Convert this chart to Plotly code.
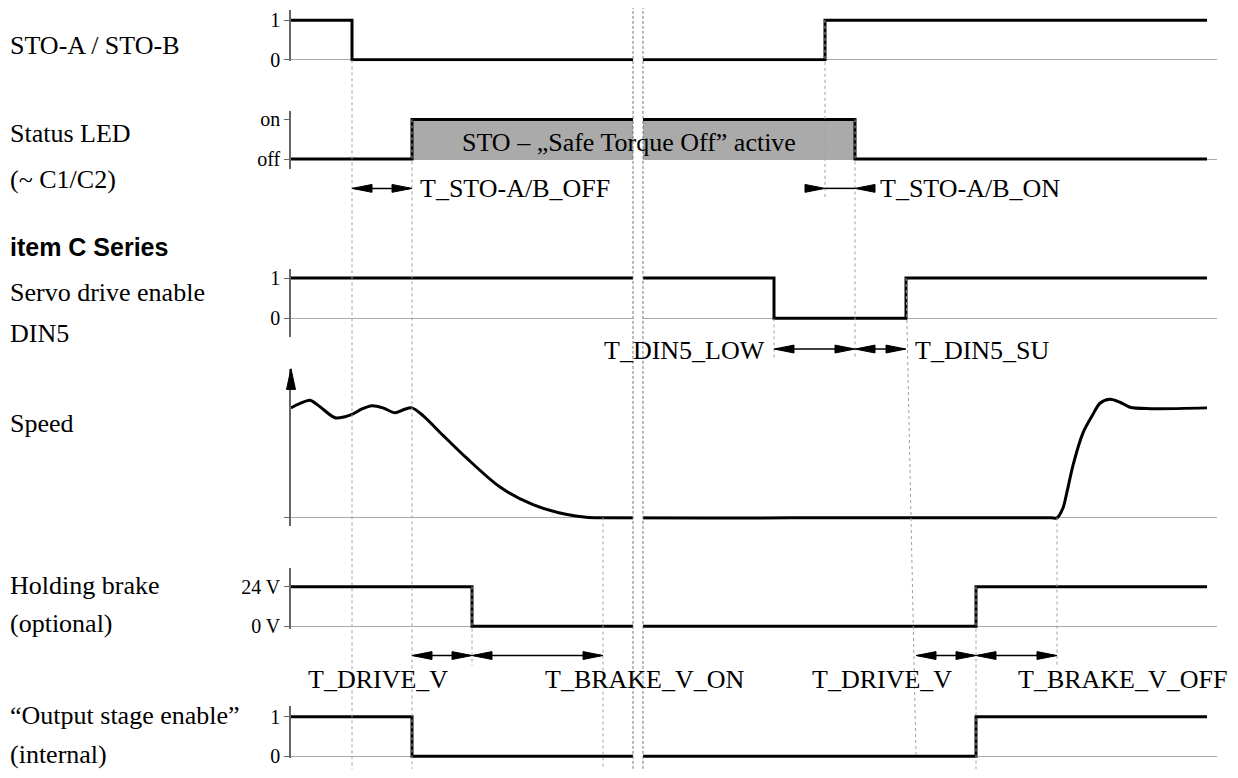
import plotly.graph_objects as go

# page has an 8px body margin: the figure is sized to fit inside the window
OFF = 8
W, H = 1238 - 2 * OFF, 778 - 2 * OFF
SERIF = "Liberation Serif, Times New Roman, serif"
SANS = "Liberation Sans, Arial, sans-serif"

# ---------------- data (time in arbitrary units) ----------------
t_end = 916
t_sto_off = 61          # STO-A/B switched off
t_led_on = 121          # status LED on / output stage disabled
t_brake_on = 181        # holding brake voltage off
t_brake_v_on_end = 312  # brake engaged
t_din5_low = 483        # DIN5 falls
t_sto_on = 534          # STO-A/B switched on again
t_led_off = 564         # status LED off
t_din5_high = 615       # DIN5 rises
t_drive_v2 = 625        # start of second T_DRIVE_V
t_brake_off = 685       # brake voltage on / output stage enabled
t_speed_rise = 766      # motor starts
t_break = [342, 352]    # axis break

sto_times = [0, t_sto_off, t_sto_on]
sto_levels = [1, 0, 1]
led_times = [0, t_led_on, t_led_off]
led_levels = [0, 1, 0]
din5_times = [0, t_din5_low, t_din5_high]
din5_levels = [1, 0, 1]
brake_times = [0, t_brake_on, t_brake_off]
brake_levels = [24, 0, 24]
output_times = [0, t_led_on, t_brake_off]
output_levels = [1, 0, 1]

speed_t = [0, 9, 19, 29, 44, 54, 61, 71, 81, 92, 104, 113, 121, 132, 152, 176, 209, 242,
           276, 295, 308, 500, 700, 760, 766, 772, 776, 782, 792, 801, 809, 819, 829, 839, 859, 916]
speed_v = [1.00, 1.04, 1.07, 1.01, 0.91, 0.92, 0.94, 0.99, 1.02, 1.00, 0.955, 0.985, 1.00,
           0.93, 0.75, 0.54, 0.28, 0.12, 0.03, 0.005, 0.0, 0.0, 0.0, 0.0, 0.0, 0.09, 0.236, 0.478,
           0.773, 0.926, 1.042, 1.078, 1.051, 1.006, 0.993, 1.00]

row_labels = [("STO-A / STO-B", 44), ("Status LED", 133), ("(~ C1/C2)", 180),
              ("Servo drive enable", 295), ("DIN5", 336), ("Speed", 428),
              ("Holding brake", 592), ("(optional)", 630),
              ("\u201cOutput stage enable\u201d", 724), ("(internal)", 763)]

# ---------------- helpers ----------------
def step(times, levels, end):
    xs, ys = [], []
    for i, (t, l) in enumerate(zip(times, levels)):
        tn = times[i + 1] if i + 1 < len(times) else end
        xs += [t, tn]
        ys += [l, l]
    return xs, ys

def px(p):
    return (p - OFF) / W

def py(p):
    return 1 - (p - OFF) / H

def axis(ptop, pbot, va, pa, vb, pb, tickvals, ticktext):
    s = (pb - pa) / (va - vb)
    vt = va + (pa - ptop) / s
    vbot = vb - (pbot - pb) / s
    return dict(domain=[py(pbot), py(ptop)], range=[vbot, vt], anchor="x",
                showline=True, linecolor="#666", linewidth=1.5,
                ticks="outside", ticklen=5, tickcolor="#666", tickwidth=1,
                tickvals=tickvals, ticktext=ticktext,
                tickfont=dict(family=SERIF, size=20, color="black"),
                showgrid=False, zeroline=True, zerolinecolor="#aaaaaa", zerolinewidth=1,
                fixedrange=True)

fig = go.Figure()
line = dict(color="black", width=3)

x, y = step(sto_times, sto_levels, t_end)
fig.add_trace(go.Scatter(x=x, y=y, mode="lines", line=line, yaxis="y"))
x, y = step(led_times, led_levels, t_end)
fig.add_trace(go.Scatter(x=x, y=y, mode="lines", line=line, fill="tozeroy",
                         fillcolor="#aaaaaa", yaxis="y2"))
x, y = step(din5_times, din5_levels, t_end)
fig.add_trace(go.Scatter(x=x, y=y, mode="lines", line=line, yaxis="y3"))
fig.add_trace(go.Scatter(x=speed_t, y=speed_v, mode="lines",
                         line=dict(color="black", width=3, shape="spline", smoothing=0.8),
                         yaxis="y4"))
x, y = step(brake_times, brake_levels, t_end)
fig.add_trace(go.Scatter(x=x, y=y, mode="lines", line=line, yaxis="y5"))
x, y = step(output_times, output_levels, t_end)
fig.add_trace(go.Scatter(x=x, y=y, mode="lines", line=line, yaxis="y6"))

shapes = []
# guide lines
guides = [(t_sto_off, 59, t_sto_off, 778), (t_led_on, 119, t_led_on, 778),
          (t_brake_on, 593, t_brake_on, 673), (t_brake_v_on_end, 523, t_brake_v_on_end, 778),
          (t_sto_on, 18, t_sto_on, 200), (t_led_off, 119, t_led_off, 360),
          (t_din5_low, 321, t_din5_low, 362), (t_din5_high, 280, t_drive_v2, 765),
          (t_brake_off, 593, t_brake_off, 778), (t_speed_rise, 523, t_speed_rise, 673)]
for x0, y0, x1, y1 in guides:
    shapes.append(dict(type="line", xref="x", yref="paper", x0=x0, x1=x1, y0=py(y0), y1=py(y1),
                       line=dict(color="#a0a0a0", width=1, dash="dot"), layer="above"))

# axis break
shapes.append(dict(type="rect", xref="x", yref="paper", x0=t_break[0], x1=t_break[1],
                   y0=py(778), y1=py(0),
                   fillcolor="white", line=dict(width=0), layer="above"))
for tb in t_break:
    shapes.append(dict(type="line", xref="x", yref="paper", x0=tb, x1=tb, y0=py(778), y1=py(0),
                       line=dict(color="#777777", width=1, dash="3px,2px"), layer="above"))

# arrows
AL, AH = 20, 4
def tri(tip, d, ypx):
    base = tip - d * AL
    yc = py(ypx)
    hh = AH / H
    shapes.append(dict(type="path", xref="x", yref="paper",
                       path=f"M {tip},{yc} L {base},{yc + hh} L {base},{yc - hh} Z",
                       fillcolor="black", line=dict(color="black", width=1), layer="above"))

def seg(a, b, ypx):
    shapes.append(dict(type="line", xref="x", yref="paper", x0=a, x1=b, y0=py(ypx), y1=py(ypx),
                       line=dict(color="black", width=1.5), layer="above"))

def outward(a, b, ypx):
    seg(a + 2, b - 2, ypx)
    tri(a, -1, ypx)
    tri(b, 1, ypx)

def inward(a, b, ypx):
    seg(a, b, ypx)
    tri(a, 1, ypx)
    tri(b, -1, ypx)

outward(t_sto_off, t_led_on, 189)
inward(t_sto_on, t_led_off, 189)
outward(t_din5_low, t_led_off, 352)
outward(t_led_off, t_din5_high, 352)
outward(t_led_on, t_brake_on, 663)
outward(t_brake_on, t_brake_v_on_end, 663)
outward(t_drive_v2, t_brake_off, 663)
outward(t_brake_off, t_speed_rise, 663)

# speed axis arrow head
cx = px(291)
shapes.append(dict(type="path", xref="paper", yref="paper",
                   path=f"M {cx},{py(372)} L {cx - 4.5 / W},{py(393)} L {cx + 4.5 / W},{py(393)} Z",
                   fillcolor="black", line=dict(color="black", width=1)))

ann = []
for txt, yp in row_labels:
    ann.append(dict(text=txt, xref="paper", yref="paper", x=px(8), y=py(yp), xanchor="left",
                    yanchor="middle", showarrow=False, font=dict(family=SERIF, size=26, color="black")))
ann.append(dict(text="<b>item C Series</b>", xref="paper", yref="paper", x=px(8), y=py(248),
                xanchor="left", yanchor="middle", showarrow=False,
                font=dict(family=SANS, size=25, color="black")))

timing = [("T_STO-A/B_OFF", 127, 189, "left"), ("T_STO-A/B_ON", 587, 189, "left"),
          ("T_DIN5_LOW", 476, 353, "right"), ("T_DIN5_SU", 622, 353, "left"),
          ("T_DRIVE_V", 87, 687, "center"), ("T_BRAKE_V_ON", 354, 687, "center"),
          ("T_DRIVE_V", 591, 687, "center"), ("T_BRAKE_V_OFF", 831, 687, "center"),
          ("STO \u2013 \u201eSafe Torque Off\u201d active", 338, 142, "center")]
for txt, tx, yp, xa in timing:
    ann.append(dict(text=txt, xref="x", yref="paper", x=tx, y=py(yp), xanchor=xa,
                    yanchor="middle", showarrow=False, font=dict(family=SERIF, size=26, color="black")))

layout = dict(
    width=W, height=H, margin=dict(l=0, r=0, t=0, b=0),
    paper_bgcolor="white", plot_bgcolor="white", showlegend=False,
    xaxis=dict(domain=[px(291), px(1217)], range=[0, 926], visible=False, fixedrange=True),
    yaxis=axis(8, 60, 1, 18.3, 0, 58.5, [0, 1], ["0", "1"]),
    yaxis2=axis(110, 169, 1, 119, 0, 159.3, [0, 1], ["off", "on"]),
    yaxis3=axis(271, 340, 1, 280, 0, 320.7, [0, 1], ["0", "1"]),
    yaxis4=axis(372, 532, 1, 411.7, 0, 523.3, [0], [""]),
    yaxis5=axis(574, 636, 24, 593.3, 0, 633.3, [0, 24], ["0 V", "24 V"]),
    yaxis6=axis(714, 767, 1, 725, 0, 765.3, [0, 1], ["0", "1"]),
    shapes=shapes, annotations=ann,
)
fig.update_layout(**layout)
fig.write_html("out.html")
